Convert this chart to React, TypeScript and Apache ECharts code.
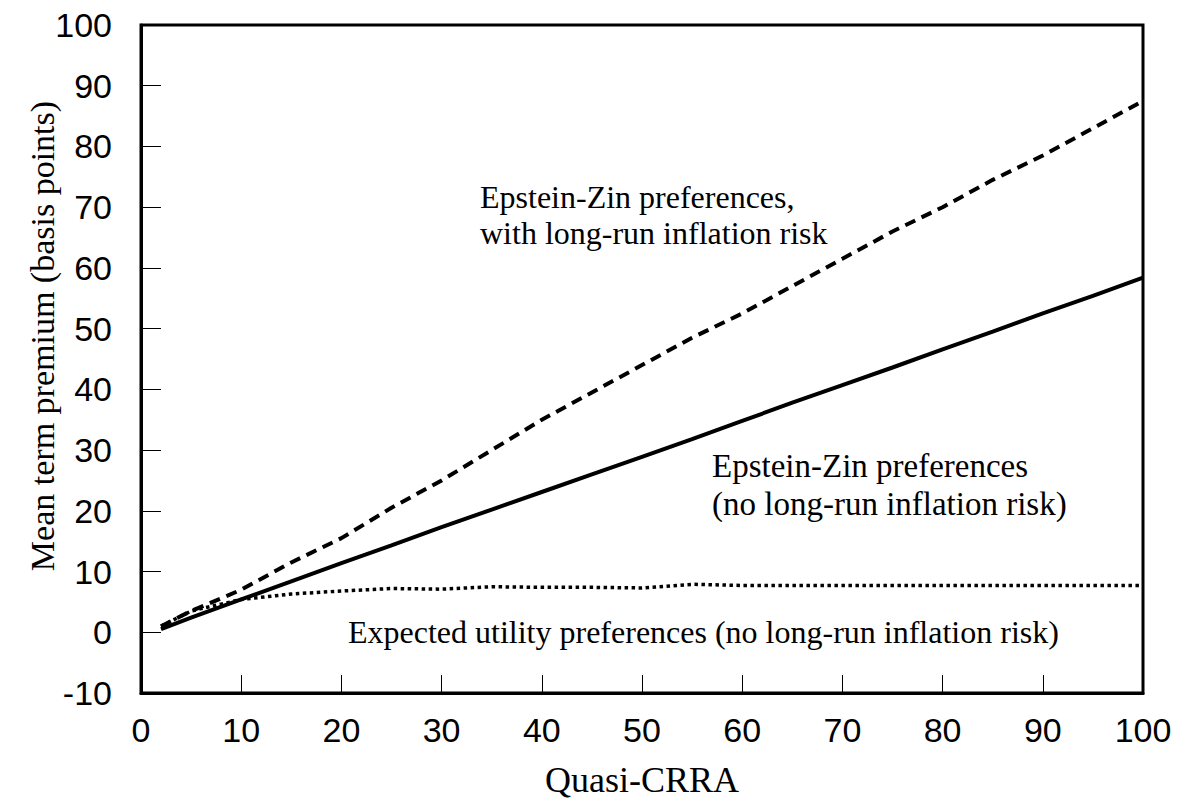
import React, { useEffect, useRef } from "react";
import * as echarts from "echarts";

const xs = [2, 5, 10, 15, 20, 25, 30, 35, 40, 45, 50, 55, 60, 65, 70, 75, 80, 85, 90, 95, 100];
const ezLongRun = [1, 3.5, 7, 11.5, 15.5, 20.5, 25, 30, 35, 39.5, 44, 48.5, 52.5, 57, 61.5, 66, 70, 74.5, 78.5, 83, 87.5];
const ezNoLongRun = [0.5, 2.4, 5.4, 8.4, 11.4, 14.3, 17.3, 20.2, 23.1, 26.0, 28.9, 31.8, 34.8, 37.8, 40.7, 43.6, 46.6, 49.5, 52.5, 55.4, 58.4];
const expectedUtility = [1, 3.5, 5.4, 6.3, 6.8, 7.2, 7.1, 7.5, 7.4, 7.4, 7.3, 7.9, 7.7, 7.7, 7.7, 7.7, 7.7, 7.7, 7.7, 7.7, 7.7];

const xTicks = [0, 10, 20, 30, 40, 50, 60, 70, 80, 90, 100];
const yMin = -10;
const yMax = 100;

const pair = (ys: number[]) => xs.map((x, i) => [x, ys[i]]);

export default function App() {
  const ref = useRef<HTMLDivElement>(null);
  useEffect(() => {
    if (!ref.current) return;
    const chart = echarts.init(ref.current, undefined, { renderer: "svg" });
    const serif = "Liberation Serif";
    const sans = "Liberation Sans";
    const txt = (text: string, x: number, y: number, size: number) => ({
      type: "text",
      x,
      y,
      style: { text, fontFamily: serif, fontSize: size, fill: "#000", textAlign: "left", textVerticalAlign: "middle" },
    });
    chart.setOption({
      animation: false,
      backgroundColor: "#fff",
      grid: {
        left: 141,
        top: 25,
        right: 36,
        bottom: 110,
        show: true,
        borderColor: "#000",
        borderWidth: 3,
        containLabel: false,
      },
      xAxis: {
        type: "value",
        min: xTicks[0],
        max: xTicks[xTicks.length - 1],
        interval: 10,
        name: "Quasi-CRRA",
        nameLocation: "middle",
        nameGap: 69,
        nameTextStyle: { fontFamily: serif, fontSize: 36, color: "#000" },
        axisLine: { show: true, onZero: false, lineStyle: { color: "#000", width: 3 } },
        axisTick: { show: true, inside: true, length: 18, lineStyle: { color: "#000", width: 1 } },
        axisLabel: { fontFamily: sans, fontSize: 34, color: "#000", margin: 20 },
        splitLine: { show: false },
      },
      yAxis: {
        type: "value",
        min: yMin,
        max: yMax,
        interval: 10,
        axisLine: { show: true, onZero: false, lineStyle: { color: "#000", width: 3 } },
        axisTick: { show: true, inside: true, length: 20, lineStyle: { color: "#000", width: 1 } },
        axisLabel: { fontFamily: sans, fontSize: 34, color: "#000", margin: 29 },
        splitLine: { show: false },
      },
      series: [
        {
          type: "line",
          data: pair(ezLongRun),
          showSymbol: false,
          lineStyle: { color: "#000", width: 4, type: [11, 7] },
        },
        {
          type: "line",
          data: pair(ezNoLongRun),
          showSymbol: false,
          lineStyle: { color: "#000", width: 4, type: "solid" },
        },
        {
          type: "line",
          data: pair(expectedUtility),
          showSymbol: false,
          lineStyle: { color: "#000", width: 3.5, type: [3.5, 3.5] },
        },
      ],
      graphic: [
        {
          type: "text",
          x: 42,
          y: 336,
          rotation: Math.PI / 2,
          style: {
            text: "Mean term premium (basis points)",
            fontFamily: serif,
            fontSize: 34,
            fill: "#000",
            textAlign: "center",
            textVerticalAlign: "middle",
          },
        },
        txt("Epstein-Zin preferences,", 480, 197, 32),
        txt("with long-run inflation risk", 480, 233, 32),
        txt("Epstein-Zin preferences", 712, 466, 33),
        txt("(no long-run inflation risk)", 712, 504, 33),
        txt("Expected utility preferences (no long-run inflation risk)", 348, 632, 32),
      ],
    });
    return () => chart.dispose();
  }, []);
  return <div ref={ref} style={{ width: 1179, height: 803, position: "absolute", left: 0, top: 0 }} />;
}
